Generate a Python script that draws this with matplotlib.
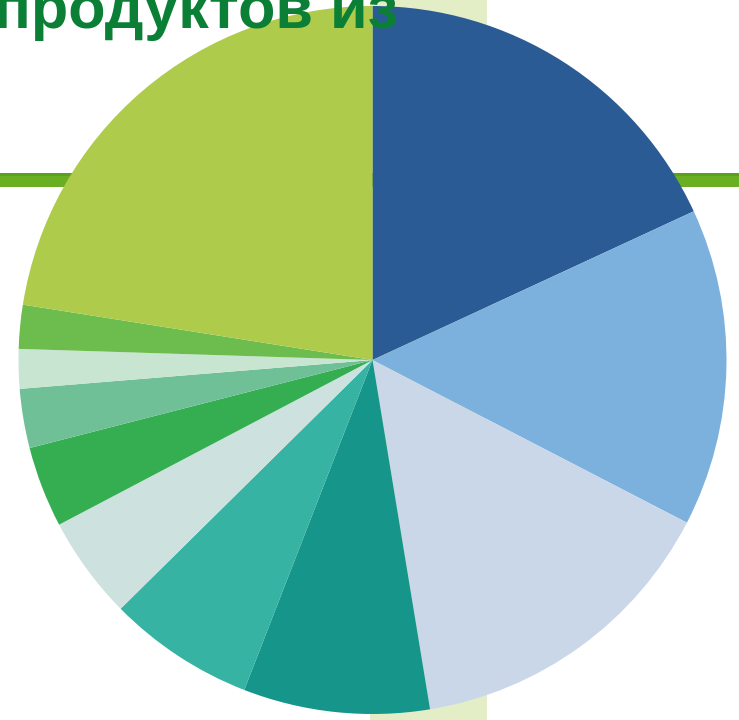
import matplotlib
matplotlib.use("Agg")
import matplotlib.pyplot as plt
from matplotlib.patches import Rectangle

# Data (percent shares, clockwise from 12 o'clock)
categories = ["A", "B", "C", "D", "E", "F", "G", "H", "I", "J", "K"]
shares = [18.1, 14.5, 14.8, 8.5, 6.7, 4.7, 3.7, 2.7, 1.8, 2.0, 22.5]
colors = ["#2B5B94", "#7DB1DD", "#CAD7E9", "#16958A", "#36B3A2", "#CDE1DE",
          "#35AE52", "#6FBF97", "#C8E5D2", "#6CBC4E", "#AFCB4B"]
title_text = "продуктов из"

W, H = 739, 720
fig = plt.figure(figsize=(W / 100, H / 100), dpi=100)
fig.patch.set_facecolor("white")
ax = fig.add_axes([0, 0, 1, 1])

# background decoration (pixel coordinates, y up)
ax.add_patch(Rectangle((370, 0), 117, H, facecolor="#E3EDC6", edgecolor="none", zorder=0))
ax.add_patch(Rectangle((0, H - 187), W, 14, facecolor="#6AAF22", edgecolor="none", zorder=0))
ax.add_patch(Rectangle((0, H - 176), W, 3, facecolor="#5E9F1C", edgecolor="none", zorder=0))

cx, cy, r = 372.5, H - 360, 354
ax.pie(shares, colors=colors, startangle=90, counterclock=False,
       center=(cx, cy), radius=r, frame=True,
       wedgeprops=dict(edgecolor="none", linewidth=0, zorder=2))

ax.set_xlim(0, W)
ax.set_ylim(0, H)
ax.set_aspect("auto")
ax.axis("off")

fig.text(398 / W, 1 - 28 / H, title_text, ha="right", va="baseline",
         fontsize=44, fontweight="bold", color="#0B7F35",
         family=["Liberation Sans", "DejaVu Sans"], zorder=5)

fig.savefig("out.png", dpi=100)
